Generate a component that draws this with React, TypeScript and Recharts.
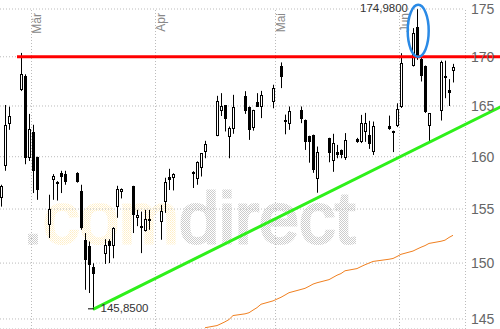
import React from 'react';
import { ComposedChart, Bar, Line, XAxis, YAxis, CartesianGrid, ReferenceLine, ReferenceDot } from 'recharts';

// trading days (weekends and exchange holidays are left out, the x axis is calendar days)
const dates = [
  '2012-02-22', '2012-02-23', '2012-02-24', '2012-02-27', '2012-02-28', '2012-02-29', '2012-03-01', '2012-03-02',
  '2012-03-05', '2012-03-06', '2012-03-07', '2012-03-08', '2012-03-09',
  '2012-03-12', '2012-03-13', '2012-03-14', '2012-03-15', '2012-03-16',
  '2012-03-19', '2012-03-20', '2012-03-21', '2012-03-22', '2012-03-23',
  '2012-03-26', '2012-03-27', '2012-03-28', '2012-03-29', '2012-03-30',
  '2012-04-02', '2012-04-03', '2012-04-04', '2012-04-05',
  '2012-04-10', '2012-04-11', '2012-04-12', '2012-04-13',
  '2012-04-16', '2012-04-17', '2012-04-18', '2012-04-19', '2012-04-20',
  '2012-04-23', '2012-04-24', '2012-04-25', '2012-04-26', '2012-04-27',
  '2012-04-30', '2012-05-02', '2012-05-03', '2012-05-04',
  '2012-05-07', '2012-05-08', '2012-05-09', '2012-05-10', '2012-05-11',
  '2012-05-14', '2012-05-15', '2012-05-16', '2012-05-17', '2012-05-18',
  '2012-05-21', '2012-05-22', '2012-05-23', '2012-05-24', '2012-05-25',
  '2012-05-29', '2012-05-30', '2012-05-31', '2012-06-01',
  '2012-06-04', '2012-06-05', '2012-06-06', '2012-06-07', '2012-06-08',
  '2012-06-11', '2012-06-12', '2012-06-13', '2012-06-14',
];

const open = [
  156.03, 159.14, 163.2, 166.6, 167.98, 159.9, 162.41, 159.94,
  153.53, 157.71, 157.61, 158.42, 158.35,
  158.42, 156.66, 152.14, 151.54, 149.61,
  150.8, 152.05, 151.54, 155.23, 156.6,
  157.16, 154.15, 153.37, 152.91, 154.06,
  153.83, 155.68, 158.02, 157.94,
  158.57, 157.84, 158.89, 160.43,
  162.0, 164.51, 165.1, 161.97, 162.76,
  165.99, 164.93, 162.8, 165.36, 164.93,
  165.44, 169.07, 163.62, 163.22,
  164.56, 163.62, 162.04, 162.14, 157.87,
  161.81, 159.59, 160.46, 160.66, 159.92,
  161.74, 161.48, 162.44, 162.09, 160.49,
  162.96, 162.53, 162.96, 164.87,
  169.07, 173.15, 169.73, 169.07, 163.03,
  164.49, 168.05, 166.56, 168.49,
];

const high = [
  157.3, 165.1, 164.93, 170.4, 168.2, 164.21, 163.13, 160.0,
  156.35, 158.32, 157.65, 158.64, 158.64,
  158.5, 157.3, 152.76, 151.98, 149.98,
  152.19, 152.19, 153.3, 157.2, 156.95,
  157.2, 154.92, 154.76, 154.92, 154.92,
  155.39, 157.97, 158.83, 158.4,
  158.6, 159.55, 160.34, 161.55,
  166.02, 166.29, 165.1, 162.96, 166.12,
  166.49, 164.95, 164.62, 166.29, 166.52,
  167.14, 169.42, 164.14, 164.95,
  164.95, 163.65, 162.05, 162.16, 160.99,
  161.85, 162.24, 161.15, 160.7, 162.31,
  161.84, 164.11, 164.31, 163.52, 163.45,
  164.04, 162.55, 165.27, 170.37,
  172.98, 174.98, 170.0, 169.1, 164.3,
  169.6, 169.6, 167.71, 169.27,
];

const low = [
  155.23, 158.64, 162.63, 166.5, 159.27, 159.59, 156.51, 155.87,
  152.3, 155.87, 155.8, 156.51, 157.3,
  157.5, 153.06, 147.59, 147.3, 145.85,
  149.92, 150.0, 150.44, 154.18, 156.0,
  152.76, 153.4, 150.91, 152.9, 153.06,
  152.14, 154.64, 156.8, 156.76,
  156.99, 157.3, 158.09, 159.85,
  162.0, 164.0, 162.47, 159.85, 162.24,
  164.21, 161.64, 162.55, 164.9, 163.79,
  164.77, 166.8, 162.19, 162.63,
  163.29, 160.66, 159.42, 158.44, 156.54,
  159.46, 158.54, 159.85, 159.85, 159.69,
  161.35, 161.33, 161.45, 160.76, 160.17,
  162.63, 160.45, 162.9, 164.8,
  169.0, 169.68, 167.47, 164.3, 161.48,
  163.55, 165.78, 165.0, 167.37,
];

const close = [
  157.14, 163.13, 164.01, 168.22, 159.85, 162.7, 158.66, 156.76,
  155.0, 158.16, 157.42, 158.0, 157.61,
  157.61, 153.22, 150.29, 149.83, 149.05,
  151.65, 151.54, 153.2, 156.89, 156.89,
  154.45, 154.45, 153.22, 154.06, 153.9,
  154.82, 157.61, 157.78, 158.35,
  158.3, 159.52, 160.34, 161.22,
  165.51, 165.0, 163.67, 162.8, 164.9,
  164.53, 162.63, 164.61, 164.93, 166.12,
  166.83, 167.9, 163.45, 164.46,
  163.75, 161.48, 161.4, 158.73, 160.43,
  160.34, 161.32, 160.12, 160.12, 161.62,
  161.42, 163.29, 163.32, 161.27, 163.03,
  162.7, 162.27, 164.7, 169.37,
  172.52, 169.85, 167.98, 164.42, 164.28,
  169.5, 167.82, 166.27, 168.93,
];

// moving average (starts mid April)
const movingAvg: (number | null)[] = [
  null, null, null, null, null, null, null, null,
  null, null, null, null, null,
  null, null, null, null, null,
  null, null, null, null, null,
  null, null, null, null, null,
  null, null, null, null,
  null, null, null, 144.23,
  144.42, 144.58, 144.75, 144.95, 145.3,
  145.45, 145.55, 145.78, 146.0, 146.3,
  146.6, 146.92, 147.12, 147.33,
  147.62, 147.72, 147.9, 148.1, 148.22,
  148.5, 148.7, 148.9, 149.05, 149.3,
  149.5, 149.68, 149.85, 150.0, 150.15,
  150.35, 150.42, 150.6, 150.8,
  151.1, 151.28, 151.45, 151.6, 151.8,
  152.0, 152.1, 152.35, 152.55,
];

const priceTicks = [145, 150, 155, 160, 165, 170, 175];
const monthStarts = ['2012-03-01', '2012-04-01', '2012-05-01', '2012-06-01'];
const monthLabels = ['Mär', 'Apr', 'Mai', 'Jun'];

// annotations
const resistance = 170;
const resistanceFrom = '2012-02-26';
const trendFrom = { date: '2012-03-16', price: 145.85 };
const trendTo = { date: '2012-06-08', price: 161.4 };
const chartEnd = '2012-06-26';
const peak = { date: '2012-06-05', price: 174.98 };
const bottom = { date: '2012-03-16', price: 145.85 };

const dayNo = (s: string) => {
  const [y, m, d] = s.split('-').map(Number);
  return (Date.UTC(y, m - 1, d) - Date.UTC(2012, 1, 22)) / 86400000;
};

const rows = dates.map((d, k) => ({
  day: dayNo(d),
  open: open[k],
  high: high[k],
  low: low[k],
  close: close[k],
  range: [low[k], high[k]],
  ma: movingAvg[k],
}));

// straight trend line on the log chart, extended to the right edge
const t1 = dayNo(trendFrom.date);
const t2 = dayNo(trendTo.date);
const tEnd = dayNo(chartEnd);
const trendEndPrice = Math.exp(
  Math.log(trendFrom.price) + (Math.log(trendTo.price) - Math.log(trendFrom.price)) * (tEnd - t1) / (t2 - t1)
);

const fmt = (v: number) => v.toFixed(4).replace('.', ',');

const Candle = (props: any) => {
  const { x, y, width, height, payload } = props;
  if (!payload) return null;
  const top = Math.min(y, y + height);
  const bot = Math.max(y, y + height);
  const lnH = Math.log(payload.high);
  const lnL = Math.log(payload.low);
  const py = (v: number) => top + ((lnH - Math.log(v)) / (lnH - lnL)) * (bot - top);
  const cx = Math.round(x + width / 2);
  const up = payload.close >= payload.open;
  const bTop = Math.round(py(Math.max(payload.open, payload.close)));
  const bBot = Math.round(py(Math.min(payload.open, payload.close)));
  const h = Math.max(1, bBot - bTop);
  return (
    <g>
      <line x1={cx + 0.5} x2={cx + 0.5} y1={top} y2={bot} stroke="#000" strokeWidth={1} />
      {up ? (
        <rect x={cx - 0.5} y={bTop + 0.5} width={2} height={Math.max(1, h - 1)} fill="#fff" stroke="#000" strokeWidth={1} />
      ) : (
        <rect x={cx - 1} y={bTop} width={3} height={h} fill="#000" />
      )}
    </g>
  );
};

const MonthLabel = ({ viewBox, text }: any) => {
  const x = viewBox.x + 9;
  const y = viewBox.y + 4;
  return (
    <text x={x} y={y} transform={`rotate(-90 ${x} ${y})`} textAnchor="end" fontSize={12} fill="#888">
      {text}
    </text>
  );
};

const Watermark = () => (
  <svg width={500} height={329} style={{ position: 'absolute', left: 0, top: 0 }}>
    <defs>
      <pattern id="wmGrey" width="2" height="2" patternUnits="userSpaceOnUse">
        <rect width="1" height="1" fill="#cccccc" />
        <rect x="1" y="1" width="1" height="1" fill="#cccccc" />
      </pattern>
      <pattern id="wmYellow" width="2" height="2" patternUnits="userSpaceOnUse">
        <rect width="1" height="1" fill="#ffeec4" />
        <rect x="1" y="1" width="1" height="1" fill="#fff3d6" />
      </pattern>
    </defs>
    <text x={23} y={243} fontSize={72} fontFamily='"Liberation Sans", Arial, sans-serif' strokeWidth={3}>
      <tspan fill="url(#wmGrey)" stroke="url(#wmGrey)">.</tspan>
      <tspan fill="url(#wmYellow)" stroke="url(#wmYellow)">com</tspan>
      <tspan fill="url(#wmGrey)" stroke="url(#wmGrey)">direct</tspan>
    </text>
  </svg>
);

export default function App() {
  return (
    <div
      style={{
        position: 'absolute',
        left: 0,
        top: 0,
        width: 500,
        height: 329,
        background: '#fff',
        overflow: 'hidden',
        fontFamily: '"Liberation Sans", Arial, sans-serif',
      }}
    >
      <Watermark />
      <div style={{ position: 'absolute', left: 0, top: 0 }}>
        <ComposedChart width={500} height={329} data={rows} margin={{ top: 9, right: 0, bottom: 0, left: 0 }}>
          <CartesianGrid vertical={false} stroke="#bbb" strokeDasharray="1 2" />
          <XAxis type="number" dataKey="day" domain={[-0.25, 116]} allowDataOverflow hide />
          <YAxis
            type="number"
            orientation="right"
            scale="log"
            domain={[144.12, 175]}
            allowDataOverflow
            ticks={priceTicks}
            width={35}
            tickLine={false}
            axisLine={false}
            tickSize={0}
            tickMargin={6}
            tick={{ fill: '#666', fontSize: 14 }}
          />
          {monthStarts.map((m, k) => (
            <ReferenceLine
              key={m}
              x={dayNo(m) - 0.375}
              stroke="#bbb"
              strokeDasharray="1 2"
              label={<MonthLabel text={monthLabels[k]} />}
            />
          ))}
          <ReferenceLine x={116.125} stroke="#bbb" strokeDasharray="1 2" ifOverflow="visible" />
          <Line dataKey="ma" stroke="#f08020" strokeWidth={1} dot={false} isAnimationActive={false} connectNulls />
          <Bar dataKey="range" barSize={3} isAnimationActive={false} shape={(p: any) => <Candle {...p} />} />
          <ReferenceLine
            segment={[
              { x: dayNo(resistanceFrom), y: resistance },
              { x: tEnd, y: resistance },
            ]}
            stroke="#ff0000"
            strokeWidth={3}
            ifOverflow="visible"
          />
          <ReferenceLine
            segment={[
              { x: t1, y: trendFrom.price },
              { x: tEnd, y: trendEndPrice },
            ]}
            stroke="#2ef01a"
            strokeWidth={3}
            ifOverflow="visible"
          />
          <ReferenceDot
            x={dayNo(peak.date) + 0.3}
            y={172.7}
            ifOverflow="visible"
            shape={(p: any) => (
              <ellipse cx={p.cx} cy={p.cy} rx={10.5} ry={26} fill="none" stroke="#2a8ae6" strokeWidth={2.5} />
            )}
          />
          <ReferenceDot
            x={dayNo(peak.date)}
            y={peak.price}
            ifOverflow="visible"
            shape={(p: any) => (
              <text x={p.cx - 9} y={p.cy + 2.6} textAnchor="end" fontSize={11.5} fill="#333">
                {fmt(peak.price)}
              </text>
            )}
          />
          <ReferenceDot
            x={dayNo(bottom.date)}
            y={bottom.price}
            ifOverflow="visible"
            shape={(p: any) => (
              <g>
                <line x1={p.cx - 5} x2={p.cx + 1} y1={p.cy - 0.5} y2={p.cy - 0.5} stroke="#000" strokeWidth={1} />
                <text x={p.cx + 7.5} y={p.cy + 3} fontSize={11.5} fill="#333">
                  {fmt(bottom.price)}
                </text>
              </g>
            )}
          />
        </ComposedChart>
      </div>
    </div>
  );
}
